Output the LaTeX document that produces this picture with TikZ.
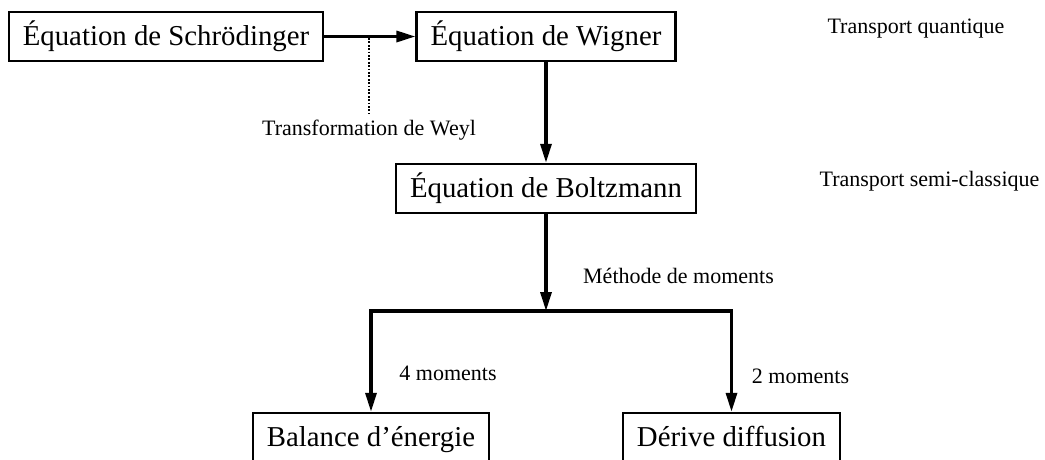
\documentclass[tikz,border=0pt]{standalone}
\usepackage{fontspec}
\setmainfont{Liberation Serif}
\usetikzlibrary{arrows.meta}
\begin{document}
\begin{tikzpicture}[x=1pt,y=-1pt,
  box/.style={draw, line width=2.4pt, inner xsep=14pt, inner ysep=0pt,
    minimum height=49pt, text height=20pt, text depth=2pt,
    font=\fontsize{28.8}{34}\selectfont},
  lab/.style={inner sep=0pt, anchor=base, font=\fontsize{22}{26}\selectfont},
  conn/.style={line width=3.2pt, -{Triangle[length=19pt,width=11pt]}},
  link/.style={line width=2.6pt, dash pattern=on 1.8pt off 1.6pt}]
\useasboundingbox (0,0) rectangle (1045,459);
\clip (0,0) rectangle (1045,459);
% boxes
\node[box] (schr) at (166,36.5) {Équation de Schrödinger};
\node[box] (wig) at (546,36.5) {Équation de Wigner};
\node[box] (boltz) at (546,188.5) {Équation de Boltzmann};
\node[box] (bal) at (371,437.5) {Balance d’énergie};
\node[box] (der) at (731.5,437.5) {Dérive diffusion};
% labels
\node[lab] (tq) at (916,33) {Transport quantique};
\node[lab] (tsc) at (929.5,186) {Transport semi-classique};
\node[lab] (weyl) at (369,135) {Transformation de Weyl};
\node[lab] (meth) at (678.5,283) {Méthode de moments};
\node[lab] (m4) at (448,380) {4 moments};
\node[lab] (m2) at (800.5,383) {2 moments};
% connectors
\draw[conn] (schr.east) -- (wig.west);
\coordinate (wtop) at (369,38);
\draw[link] (wtop) -- ([yshift=5pt]weyl.north);
\draw[conn] (wig.south) -- (boltz.north);
\coordinate (jm) at (546,311);
\draw[conn] (boltz.south) -- (jm);
\draw[conn] (jm) -| (bal.north);
\draw[conn] (jm) -| (der.north);
\end{tikzpicture}
\end{document}
